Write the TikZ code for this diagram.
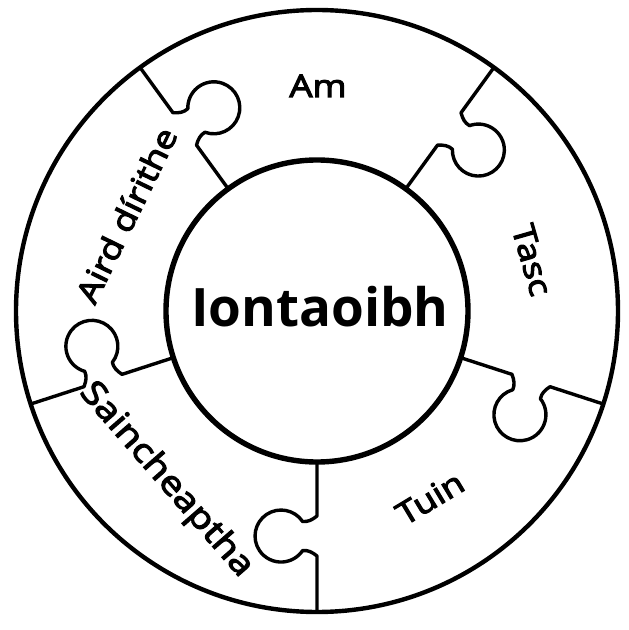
\documentclass[tikz,border=0pt]{standalone}
\usepackage{fontspec}
\setmainfont{Open Sans}
\newfontfamily\semifont[FakeBold=3.6,FakeStretch=1.18]{Open Sans}
\usetikzlibrary{positioning}
\tikzset{
  rimline/.style={line width=4.4pt},
  hubline/.style={line width=5.4pt},
  joinline/.style={line width=3.4pt,line join=round},
  hublabel/.style={font=\fontsize{53}{60}\selectfont\bfseries,inner sep=0pt},
  piecelabel/.style={font=\fontsize{31}{35}\selectfont\semifont,inner sep=0pt}
}
\begin{document}
\begin{tikzpicture}[x=1pt,y=1pt]
  \useasboundingbox (0,0) rectangle (629,630);
  \fill[white] (0,0) rectangle (629,630);
  \coordinate (C) at (317,319);

  % rings
  \draw[rimline] (C) circle[radius=301];
  \draw[hubline] (C) circle[radius=151];

  % puzzle joints, knob on the clockwise side
  \foreach \ang in {126,54,-18,-90,-162}{
    \begin{scope}[shift={(C)},rotate=\ang]
      \draw[joinline] (151,0) -- (205,0)
        .. controls (209,-5) and (211,-9) .. (210.5,-14.4)
        arc[start angle=124,end angle=416,radius=26]
        .. controls (239,-9) and (241,-5) .. (245,0) -- (301,0);
    \end{scope}
  }

  % labels
  \node[hublabel,anchor=base] (hub) at (320,303) {Iontaoibh};
  \node[piecelabel,anchor=base] (am) at (318,533) {Am};
  \node[piecelabel,rotate=-74] (tasc) at (532,370) {Tasc};
  \node[piecelabel,rotate=31] (tuin) at (430,132) {Tuin};
  \node[piecelabel,rotate=64] (aird) at (126,415) {Aird dírithe};
  \node[piecelabel,rotate=-49,font=\fontsize{33}{36}\selectfont\semifont] (sain) at (166,150) {Saincheaptha};
\end{tikzpicture}
\end{document}
